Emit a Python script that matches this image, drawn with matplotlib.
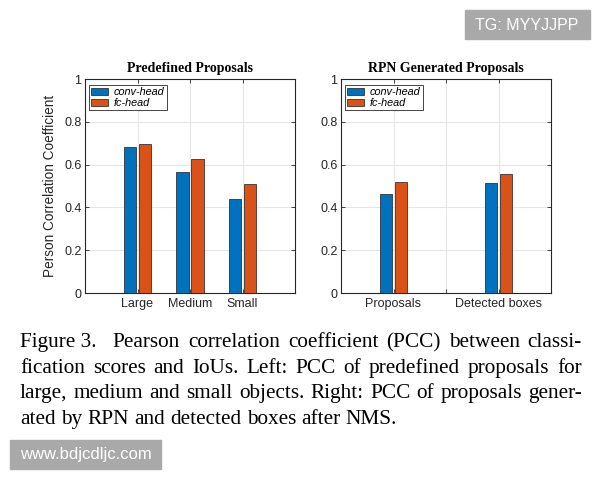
import matplotlib
matplotlib.use("Agg")
import matplotlib.pyplot as plt
import numpy as np

left_categories = ["Large", "Medium", "Small"]
left_conv = [0.682, 0.565, 0.441]
left_fc = [0.696, 0.625, 0.511]

right_categories = ["Proposals", "Detected boxes"]
right_conv = [0.464, 0.514]
right_fc = [0.520, 0.556]

series_names = ["conv-head", "fc-head"]
yticks = [0, 0.2, 0.4, 0.6, 0.8, 1]
ytick_labels = ["0", "0.2", "0.4", "0.6", "0.8", "1"]

caption_lines = [
    ["Figure 3.", "Pearson", "correlation", "coefficient", "(PCC)", "between", "classi-"],
    ["fication", "scores", "and", "IoUs.", "Left:", "PCC", "of", "predefined", "proposals", "for"],
    ["large,", "medium", "and", "small", "objects.", "Right:", "PCC", "of", "proposals", "gener-"],
    ["ated", "by", "RPN", "and", "detected", "boxes", "after", "NMS."],
]

BLUE = "#0072BD"
ORANGE = "#D95319"
AXCOL = "#262626"
SANS = ["Liberation Sans", "DejaVu Sans"]
SERIF = ["Liberation Serif", "DejaVu Serif"]

plt.rcParams["font.family"] = SANS

fig = plt.figure(figsize=(6, 4.8), dpi=100)
ax1 = fig.add_axes([85 / 600, 1 - 293 / 480, 210 / 600, 214 / 480])
ax2 = fig.add_axes([341 / 600, 1 - 293 / 480, 210 / 600, 214 / 480])


def style_axes(ax, title, xt, xtl, xlim):
    ax.set_xlim(*xlim)
    ax.set_ylim(0, 1)
    ax.set_yticks(yticks)
    ax.set_yticklabels(ytick_labels)
    ax.set_xticks(xt)
    ax.set_xticklabels(xtl)
    ax.grid(True, color="#e6e6e6", linewidth=0.8, zorder=0)
    ax.set_axisbelow(True)
    for s in ax.spines.values():
        s.set_color(AXCOL)
        s.set_linewidth(0.8)
    ax.tick_params(direction="in", length=3, width=0.6, color=AXCOL,
                   labelsize=9, labelcolor=AXCOL, top=True, right=True)
    ax.tick_params(axis="y", pad=2.5)
    ax.tick_params(axis="x", pad=3.5)
    ax.set_title(title, family=SERIF, fontweight="bold", fontsize=10, pad=5)
    leg = ax.legend(loc="upper left", bbox_to_anchor=(0.019, 0.972), borderaxespad=0,
                    fancybox=False, framealpha=1, edgecolor=AXCOL,
                    prop={"family": SANS, "style": "italic", "size": 7.8},
                    handlelength=1.6, handleheight=0.7, handletextpad=0.5,
                    labelspacing=0.1, borderpad=0.2)
    leg.get_frame().set_linewidth(0.6)


# left panel
xl = np.arange(1, len(left_categories) + 1)
wl = 0.23
ax1.bar(xl - 0.143, left_conv, wl, color=BLUE, edgecolor="#1a1a1a", linewidth=0.5,
        label=series_names[0], zorder=3)
ax1.bar(xl + 0.143, left_fc, wl, color=ORANGE, edgecolor="#1a1a1a", linewidth=0.5,
        label=series_names[1], zorder=3)
style_axes(ax1, "Predefined Proposals", xl, left_categories, (0, 4))
ax1.set_ylabel("Person Correlation Coefficient", fontsize=9.8, color=AXCOL, labelpad=5)

# right panel
xr = np.arange(1, len(right_categories) + 1)
wr = 0.115
ax2.bar(xr - 0.0714, right_conv, wr, color=BLUE, edgecolor="#1a1a1a", linewidth=0.5,
        label=series_names[0], zorder=3)
ax2.bar(xr + 0.0714, right_fc, wr, color=ORANGE, edgecolor="#1a1a1a", linewidth=0.5,
        label=series_names[1], zorder=3)
style_axes(ax2, "RPN Generated Proposals", [1, 1.5, 2],
           [right_categories[0], "", right_categories[1]], (0.5, 2.5))

# caption, justified between x0 and x1 (pixels)
renderer = fig.canvas.get_renderer()
x0, x1 = 20, 582
baseline = 347
line_step = 25.7
cap_size = 15.3
for i, words in enumerate(caption_lines):
    y = 1 - (baseline + i * line_step) / 480
    texts = [fig.text(0, y, w, family=SERIF, fontsize=cap_size, va="baseline", ha="left")
             for w in words]
    widths = [t.get_window_extent(renderer).width for t in texts]
    gaps = [2.0 if (i == 0 and k == 0) else 1.0 for k in range(len(words) - 1)]
    if i < len(caption_lines) - 1:
        unit = (x1 - x0 - sum(widths)) / sum(gaps)
    else:
        unit = cap_size * 100 / 72 * 0.25
    pos = x0
    for k, t in enumerate(texts):
        t.set_x(pos / 600)
        pos += widths[k] + (gaps[k] * unit if k < len(gaps) else 0)

# watermark boxes
fig.patches.append(plt.Rectangle((465 / 600, 1 - 39 / 480), 125 / 600, 29 / 480,
                                 transform=fig.transFigure, color="#a9a9a9", zorder=1))
fig.text(527 / 600, 1 - 25 / 480, "TG: MYYJJPP", color="white", fontsize=11.5,
         ha="center", va="center", zorder=2)
fig.patches.append(plt.Rectangle((10 / 600, 1 - 469 / 480), 151 / 600, 29 / 480,
                                 transform=fig.transFigure, color="#a9a9a9", zorder=1))
fig.text(86 / 600, 1 - 455 / 480, "www.bdjcdljc.com", color="white", fontsize=12,
         ha="center", va="center", zorder=2)

fig.savefig("out.png", dpi=100)
